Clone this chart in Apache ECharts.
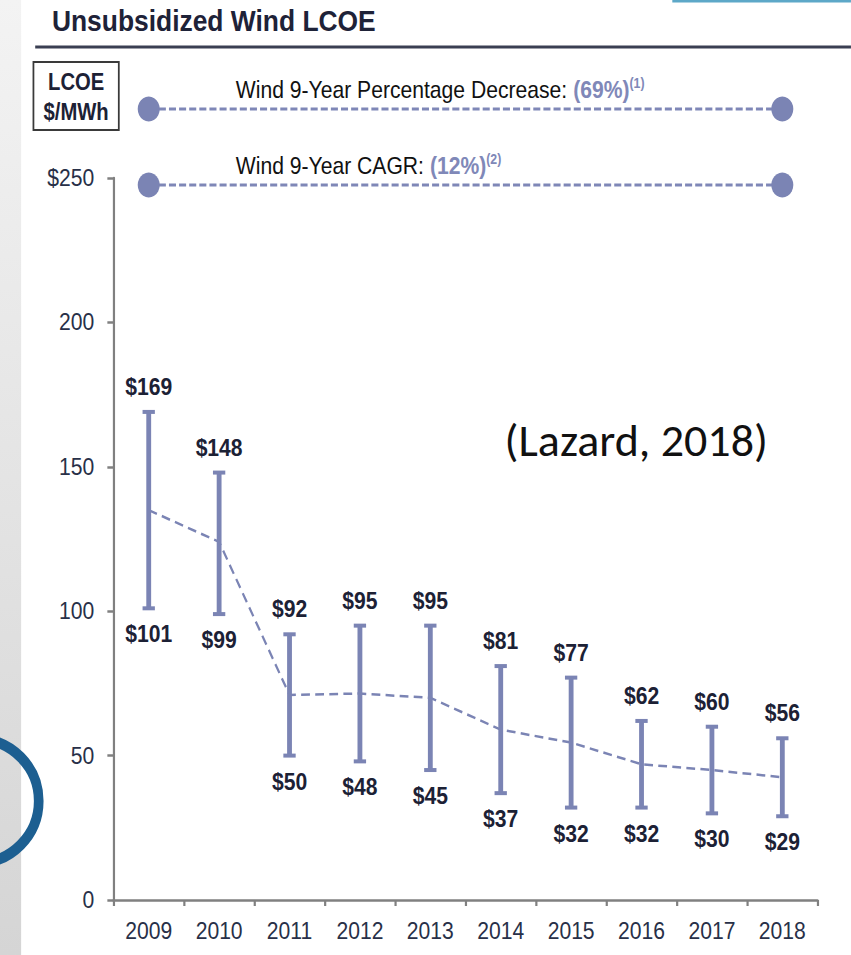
<!DOCTYPE html>
<html>
<head>
<meta charset="utf-8">
<script src="https://cdn.jsdelivr.net/npm/echarts@6/dist/echarts.min.js"></script>
<style>
  html, body { margin: 0; padding: 0; background: #fff; overflow: hidden; }
  /* source slide is squeezed horizontally, so draw wide and squeeze */
  #main { width: 967px; height: 955px; transform: scaleX(0.88); transform-origin: 0 0; }
</style>
</head>
<body>
<div id="main"></div>
<script>
var years = ['2009', '2010', '2011', '2012', '2013', '2014', '2015', '2016', '2017', '2018'];
var highs = [169, 148, 92, 95, 95, 81, 77, 62, 60, 56];
var lows = [101, 99, 50, 48, 45, 37, 32, 32, 30, 29];
var mids = [135, 124, 71, 71.5, 70, 59, 54.5, 47, 45, 42.5];
var yMin = 0, yMax = 250, yStep = 50;

var barColor = '#7b84b4';
var textColor = '#1c2135';
var font = '"Liberation Sans", Arial, sans-serif';

var myChart = echarts.init(document.getElementById('main'), null, { renderer: 'svg' });

var rangeData = years.map(function (y, i) { return [i, highs[i], lows[i]]; });

var option = {
  animation: false,
  grid: { left: 129, right: 38, top: 178, bottom: 55, containLabel: false, outerBoundsMode: 'none' },
  xAxis: {
    type: 'category',
    data: years,
    boundaryGap: true,
    axisLine: { lineStyle: { color: '#808080', width: 2.5 } },
    axisTick: { show: true, length: 6, lineStyle: { color: '#808080', width: 2.5 } },
    axisLabel: { color: '#283048', fontSize: 24, fontFamily: font, margin: 19 }
  },
  yAxis: {
    type: 'value',
    min: yMin, max: yMax, interval: yStep,
    splitLine: { show: false },
    axisLine: { show: true, lineStyle: { color: '#808080', width: 2.5 } },
    axisTick: { show: true, length: 7, lineStyle: { color: '#808080', width: 2.5 } },
    axisLabel: {
      color: '#283048', fontSize: 24, fontFamily: font, margin: 22,
      formatter: function (v) { return v === yMax ? '$' + v : '' + v; }
    }
  },
  series: [
    {
      type: 'line',
      data: mids,
      symbol: 'none',
      z: 2,
      lineStyle: { color: barColor, width: 2.5, type: [10, 6] }
    },
    {
      type: 'custom',
      data: rangeData,
      z: 3,
      renderItem: function (params, api) {
        var hi = api.coord([api.value(0), api.value(1)]);
        var lo = api.coord([api.value(0), api.value(2)]);
        var half = 7;
        var lbl = { font: 'bold 24px ' + font, fill: textColor, align: 'center', verticalAlign: 'middle' };
        return {
          type: 'group',
          children: [
            { type: 'line', shape: { x1: hi[0], y1: hi[1], x2: lo[0], y2: lo[1] }, style: { stroke: barColor, lineWidth: 5.5 } },
            { type: 'line', shape: { x1: hi[0] - half, y1: hi[1], x2: hi[0] + half, y2: hi[1] }, style: { stroke: barColor, lineWidth: 4 } },
            { type: 'line', shape: { x1: lo[0] - half, y1: lo[1], x2: lo[0] + half, y2: lo[1] }, style: { stroke: barColor, lineWidth: 4 } },
            { type: 'text', style: Object.assign({ text: '$' + api.value(1), x: hi[0], y: hi[1] - 25 }, lbl) },
            { type: 'text', style: Object.assign({ text: '$' + api.value(2), x: lo[0], y: lo[1] + 26 }, lbl) }
          ]
        };
      }
    }
  ]
};
myChart.setOption(option);

// 顶部注释 & 装饰
var xa = myChart.convertToPixel({ xAxisIndex: 0 }, years[0]);
var xb = myChart.convertToPixel({ xAxisIndex: 0 }, years[years.length - 1]);
var noteRich = {
  a: { fontFamily: font, fontSize: 24, fill: '#111', lineHeight: 28 },
  b: { fontFamily: font, fontSize: 24, fontWeight: 'bold', fill: '#8088b8', lineHeight: 28 },
  c: { fontFamily: font, fontSize: 14, fontWeight: 'bold', fill: '#8088b8', lineHeight: 28, verticalAlign: 'top' }
};
function note(y, txt) {
  return [
    { type: 'line', shape: { x1: xa, y1: y, x2: xb, y2: y }, style: { stroke: '#7f87b7', lineWidth: 3, lineDash: [8, 3.5] } },
    { type: 'circle', shape: { cx: xa, cy: y, r: 12.5 }, style: { fill: barColor } },
    { type: 'circle', shape: { cx: xb, cy: y, r: 12.5 }, style: { fill: barColor } },
    { type: 'text', x: 268, y: y - 19, style: { text: txt, rich: noteRich, verticalAlign: 'middle' } }
  ];
}

var graphics = [
  { type: 'rect', shape: { x: 0, y: 0, width: 24, height: 955 }, z: -1,
    style: { fill: new echarts.graphic.LinearGradient(0, 0, 0, 1, [{ offset: 0, color: '#f3f3f3' }, { offset: 1, color: '#d5d5d5' }]) } },
  { type: 'rect', shape: { x: 764, y: 0, width: 203, height: 2.5 }, style: { fill: '#5da8c8' } },
  { type: 'ellipse', shape: { cx: -26, cy: 801, rx: 70, ry: 62 }, style: { fill: 'none', stroke: '#1d5f91', lineWidth: 11 } },
  { type: 'text', x: 59, y: 20, style: { text: 'Unsubsidized Wind LCOE', font: 'bold 30px ' + font, fill: '#1e2238', verticalAlign: 'middle' } },
  { type: 'line', shape: { x1: 40, y1: 47, x2: 967, y2: 47 }, style: { stroke: '#3a3f52', lineWidth: 3 } },
  { type: 'rect', shape: { x: 38, y: 62, width: 97, height: 68 }, style: { fill: '#fff', stroke: '#3a3a3a', lineWidth: 2 } },
  { type: 'text', x: 86.5, y: 82, style: { text: 'LCOE', font: 'bold 23px ' + font, fill: textColor, align: 'center', verticalAlign: 'middle' } },
  { type: 'text', x: 86.5, y: 112, style: { text: '$/MWh', font: 'bold 23px ' + font, fill: textColor, align: 'center', verticalAlign: 'middle' } },
  // the source note is not squeezed, so undo the page squeeze for it
  { type: 'text', x: 723, y: 440, scaleX: 1 / 0.88, style: { text: '(Lazard, 2018)', font: '46px Carlito, Lato, sans-serif', fill: '#111', align: 'center', verticalAlign: 'middle' } }
].concat(
  note(109, '{a|Wind 9-Year Percentage Decrease: }{b|(69%)}{c|(1)}'),
  note(185, '{a|Wind 9-Year CAGR: }{b|(12%)}{c|(2)}')
);
myChart.setOption({ graphic: graphics });
</script>
</body>
</html>
